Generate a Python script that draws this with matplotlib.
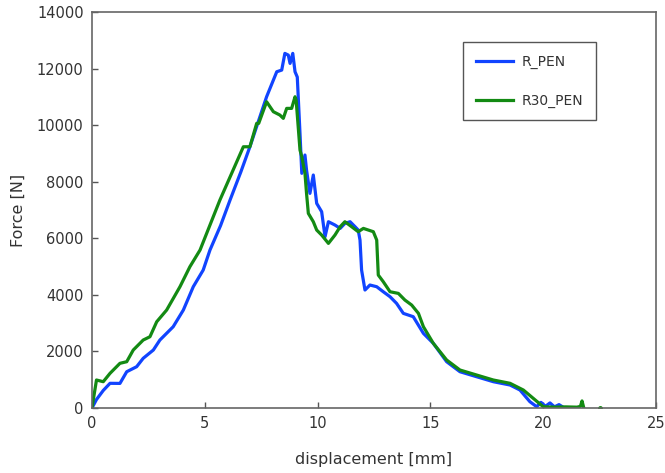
import numpy as np
import matplotlib
matplotlib.use('Agg')
import matplotlib.pyplot as plt

# R_PEN (blue)
r_pen_x = [0.0, 0.2, 0.5, 0.8, 1.24, 1.54, 1.98, 2.27, 2.72, 3.01, 3.6, 4.05, 4.49, 4.93,
           5.23, 5.7, 6.12, 6.6, 7.0, 7.74, 8.19, 8.41, 8.55, 8.7, 8.78, 8.9, 9.0, 9.1,
           9.22, 9.3, 9.44, 9.51, 9.66, 9.81, 9.96, 10.18, 10.33, 10.48, 10.77, 11.0,
           11.21, 11.44, 11.66, 11.8, 11.88, 11.95, 12.1, 12.32, 12.62, 12.91, 13.21,
           13.5, 13.8, 14.24, 14.69, 15.13, 15.72, 16.31, 17.05, 17.79, 18.53, 18.97,
           19.41, 19.71, 19.9, 20.1, 20.3, 20.5, 20.7, 20.9, 21.1]
r_pen_y = [0, 300, 620, 873, 870, 1283, 1460, 1757, 2050, 2403, 2874, 3464, 4288, 4878,
           5585, 6450, 7352, 8350, 9236, 11004, 11888, 11947, 12537, 12478, 12183, 12537,
           11888, 11700, 9708, 8297, 8944, 8413, 7588, 8237, 7235, 6940, 6056, 6586, 6469,
           6350, 6527, 6586, 6409, 6292, 5938, 4878, 4171, 4348, 4288, 4111, 3935, 3700,
           3346, 3228, 2639, 2285, 1637, 1283, 1106, 930, 813, 636, 223, 46, 200, 60,
           180, 40, 120, 20, 0]

# R30_PEN (green)
r30_pen_x = [0.0, 0.2, 0.5, 0.8, 1.24, 1.54, 1.83, 2.27, 2.57, 2.87, 3.31, 3.9, 4.34,
             4.79, 5.67, 6.71, 7.0, 7.3, 7.39, 7.74, 8.04, 8.33, 8.48, 8.63, 8.85, 9.0,
             9.05, 9.22, 9.3, 9.44, 9.51, 9.59, 9.81, 9.96, 10.18, 10.48, 10.77, 11.0,
             11.21, 11.51, 11.8, 12.03, 12.47, 12.62, 12.69, 12.91, 13.21, 13.58, 13.87,
             14.17, 14.47, 14.69, 15.13, 15.72, 16.31, 17.05, 17.79, 18.53, 19.12, 19.56,
             20.0, 20.5, 21.0, 21.5, 21.65, 21.72, 21.8]
r30_pen_y = [0, 990, 930, 1226, 1580, 1637, 2050, 2403, 2520, 3050, 3464, 4288, 4995,
             5585, 7352, 9236, 9236, 10063, 10063, 10827, 10475, 10357, 10240, 10593,
             10593, 11004, 10880, 9120, 8885, 8297, 7588, 6881, 6586, 6292, 6115, 5820,
             6115, 6409, 6586, 6409, 6233, 6350, 6233, 5938, 4701, 4466, 4111, 4052, 3817,
             3640, 3346, 2874, 2285, 1697, 1343, 1166, 990, 873, 636, 341, 46, 30, 40, 30,
             60, 250, 0]

x_ticks = [0, 5, 10, 15, 20, 25]
y_ticks = list(range(0, 14001, 2000))

text_col = '#333333'
fig = plt.figure(figsize=(6.65, 4.73), dpi=100)
ax = fig.add_axes([0.1383, 0.1374, 0.8482, 0.8372])

ax.plot(r_pen_x, r_pen_y, color='#1144ff', lw=2.3, label='R_PEN')
ax.plot(r30_pen_x, r30_pen_y, color='#138a13', lw=2.3, label='R30_PEN')
ax.plot([22.5], [0], 'o', color='#138a13', ms=2.5)

ax.set_xlim(0, 25)
ax.set_ylim(0, 14000)
ax.set_xticks(x_ticks)
ax.set_yticks(y_ticks)
ax.tick_params(direction='in', length=4, width=1, color='#555555',
               labelsize=10.5, labelcolor=text_col, pad=6)
for s in ax.spines.values():
    s.set_color('#666666')
    s.set_linewidth(1.2)

ax.set_xlabel('displacement [mm]', fontsize=11.5, color=text_col, labelpad=15)
ax.set_ylabel('Force [N]', fontsize=11.5, color=text_col, labelpad=8)

leg = ax.legend(loc='upper left', bbox_to_anchor=(0.658, 0.924), fontsize=10,
                fancybox=False, edgecolor='#555555', framealpha=1,
                handlelength=2.7, labelspacing=1.8, borderpad=0.9,
                handletextpad=0.6, borderaxespad=0)
leg.get_frame().set_linewidth(1.0)
for t in leg.get_texts():
    t.set_color(text_col)

fig.savefig('out.png', dpi=100)
